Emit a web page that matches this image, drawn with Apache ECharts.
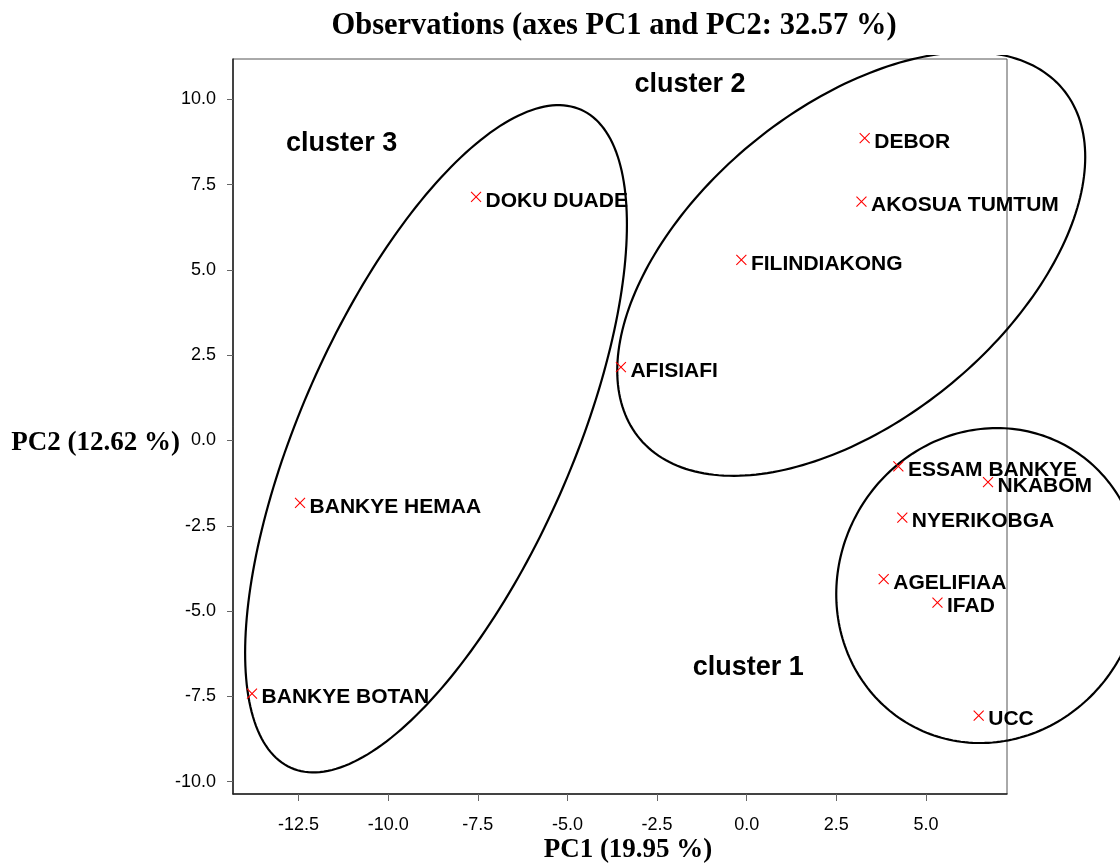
<!DOCTYPE html>
<html>
<head>
<meta charset="utf-8">
<script src="https://cdn.jsdelivr.net/npm/echarts@6/dist/echarts.min.js"></script>
<style>
html,body{margin:0;padding:0;background:#fff;}
#chart{width:1120px;height:865px;}
</style>
</head>
<body>
<div id="chart"></div>
<script>
// Observations (PC1, PC2)
const obsNames = ['DEBOR','AKOSUA TUMTUM','FILINDIAKONG','AFISIAFI','DOKU DUADE','BANKYE HEMAA','BANKYE BOTAN','ESSAM BANKYE','NKABOM','NYERIKOBGA','AGELIFIAA','IFAD','UCC'];
const obsPC1  = [3.29, 3.20, -0.15, -3.51, -7.55, -12.46, -13.80, 4.23, 6.73, 4.34, 3.82, 5.32, 6.47];
const obsPC2  = [8.86, 7.00, 5.29, 2.15, 7.14, -1.83, -7.42, -0.76, -1.22, -2.26, -4.06, -4.75, -8.06];

// Cluster ellipses: centre, half extents along PC1 / PC2, correlation
const ellipseNames = ['cluster 1','cluster 2','cluster 3'];
const ellipseCX  = [6.745, 2.915, -8.667];
const ellipseCY  = [-4.251, 5.177, 0.05];
const ellipseRX  = [4.248, 6.527, 5.325];
const ellipseRY  = [4.615, 6.212, 9.777];
const ellipseRho = [0.055, 0.504, 0.642];

// Cluster text labels
const clusterLabels = ['cluster 1','cluster 2','cluster 3'];
const clusterLabelX = [0.04, -1.58, -11.30];
const clusterLabelY = [-6.66, 10.44, 8.71];

// Tick labels
const xTicks = [-12.5, -10, -7.5, -5, -2.5, 0, 2.5, 5];
const yTicks = [-10, -7.5, -5, -2.5, 0, 2.5, 5, 7.5, 10];

const chart = echarts.init(document.getElementById('chart'), null, {renderer:'canvas'});

const obsData = obsNames.map((n,i)=>({name:n, value:[obsPC1[i], obsPC2[i]]}));
const ellData = ellipseNames.map((n,i)=>({name:n, value:[ellipseCX[i], ellipseCY[i], ellipseRX[i], ellipseRY[i], ellipseRho[i]]}));
const clData = clusterLabels.map((n,i)=>({name:n, value:[clusterLabelX[i], clusterLabelY[i]]}));

const tickFont = {fontFamily:'Liberation Sans, Arial, sans-serif', fontSize:18, color:'#000'};

const option = {
  backgroundColor:'#fff',
  animation:false,
  title:{
    text:'Observations (axes PC1 and PC2: 32.57 %)',
    left:609, top:6, textAlign:'center',
    textStyle:{fontFamily:'Liberation Serif, Times New Roman, serif', fontWeight:'bold', fontSize:30.5, color:'#000'}
  },
  grid:{left:233, top:59, width:774, height:735, show:true, borderColor:'#555', borderWidth:1, backgroundColor:'transparent', containLabel:false, outerBoundsMode:'none'},
  xAxis:{
    type:'value', min:-14.33, max:7.26,
    name:'PC1 (19.95 %)', nameLocation:'middle', nameGap:43, nameMoveOverlap:false,
    nameTextStyle:{fontFamily:'Liberation Serif, Times New Roman, serif', fontWeight:'bold', fontSize:27, color:'#000', verticalAlign:'top', padding:[0,0,0,16]},
    splitLine:{show:false},
    axisLine:{show:true, onZero:false, lineStyle:{color:'#222', width:1.5}},
    axisTick:{show:true, length:7, inside:false, customValues:xTicks, lineStyle:{color:'#666', width:1}},
    axisLabel:{show:true, margin:22, customValues:xTicks, formatter:v=>Number(v).toFixed(1), ...tickFont}
  },
  yAxis:{
    type:'value', min:-10.36, max:11.18,
    name:'PC2 (12.62 %)', nameLocation:'middle', nameGap:53, nameRotate:0, nameMoveOverlap:false,
    nameTextStyle:{fontFamily:'Liberation Serif, Times New Roman, serif', fontWeight:'bold', fontSize:27, color:'#000', align:'right', verticalAlign:'top', lineHeight:33},
    splitLine:{show:false},
    axisLine:{show:true, onZero:false, lineStyle:{color:'#222', width:1.5}},
    axisTick:{show:true, length:6, inside:false, customValues:yTicks, lineStyle:{color:'#666', width:1}},
    axisLabel:{show:true, margin:17, customValues:yTicks, formatter:v=>Number(v).toFixed(1), padding:[6,0,0,0], ...tickFont}
  },
  series:[
    {
      type:'custom', name:'ellipses', clip:false, silent:true, z:3,
      encode:{x:0, y:1},
      data:ellData,
      renderItem:function(params, api){
        const cx=api.value(0), cy=api.value(1), rx=api.value(2), ry=api.value(3), rho=api.value(4);
        const s=Math.sqrt(1-rho*rho);
        const pts=[]; const N=240;
        for(let i=0;i<=N;i++){
          const t=2*Math.PI*i/N;
          pts.push(api.coord([cx+rx*Math.cos(t), cy+ry*(rho*Math.cos(t)+s*Math.sin(t))]));
        }
        const cs=params.coordSys;
        return {
          type:'polyline', shape:{points:pts},
          style:{fill:null, stroke:'#000', lineWidth:2.2},
          clipPath:{type:'rect', shape:{x:0, y:cs.y-4, width:1120, height:865}}
        };
      }
    },
    {
      type:'scatter', name:'observations', z:4,
      symbol:'path://M0,0L10,10M10,0L0,10', symbolSize:10,
      itemStyle:{color:'transparent', borderColor:'#ff0000', borderWidth:1.1, opacity:1},
      label:{show:true, position:'right', distance:4, offset:[0,4], formatter:p=>p.name,
        fontFamily:'Liberation Sans, Arial, sans-serif', fontWeight:'bold', fontSize:21, color:'#000'},
      emphasis:{disabled:true},
      data:obsData
    },
    {
      type:'custom', name:'clusters', z:5, clip:false, silent:true,
      encode:{x:0, y:1},
      data:clData,
      renderItem:function(params, api){
        const p=api.coord([api.value(0), api.value(1)]);
        return {
          type:'text', x:p[0], y:p[1],
          style:{text:clusterLabels[params.dataIndex], fill:'#000', align:'center', verticalAlign:'middle',
            fontFamily:'Liberation Sans, Arial, sans-serif', fontWeight:'bold', fontSize:27}
        };
      }
    }
  ]
};
chart.setOption(option);
</script>
</body>
</html>
